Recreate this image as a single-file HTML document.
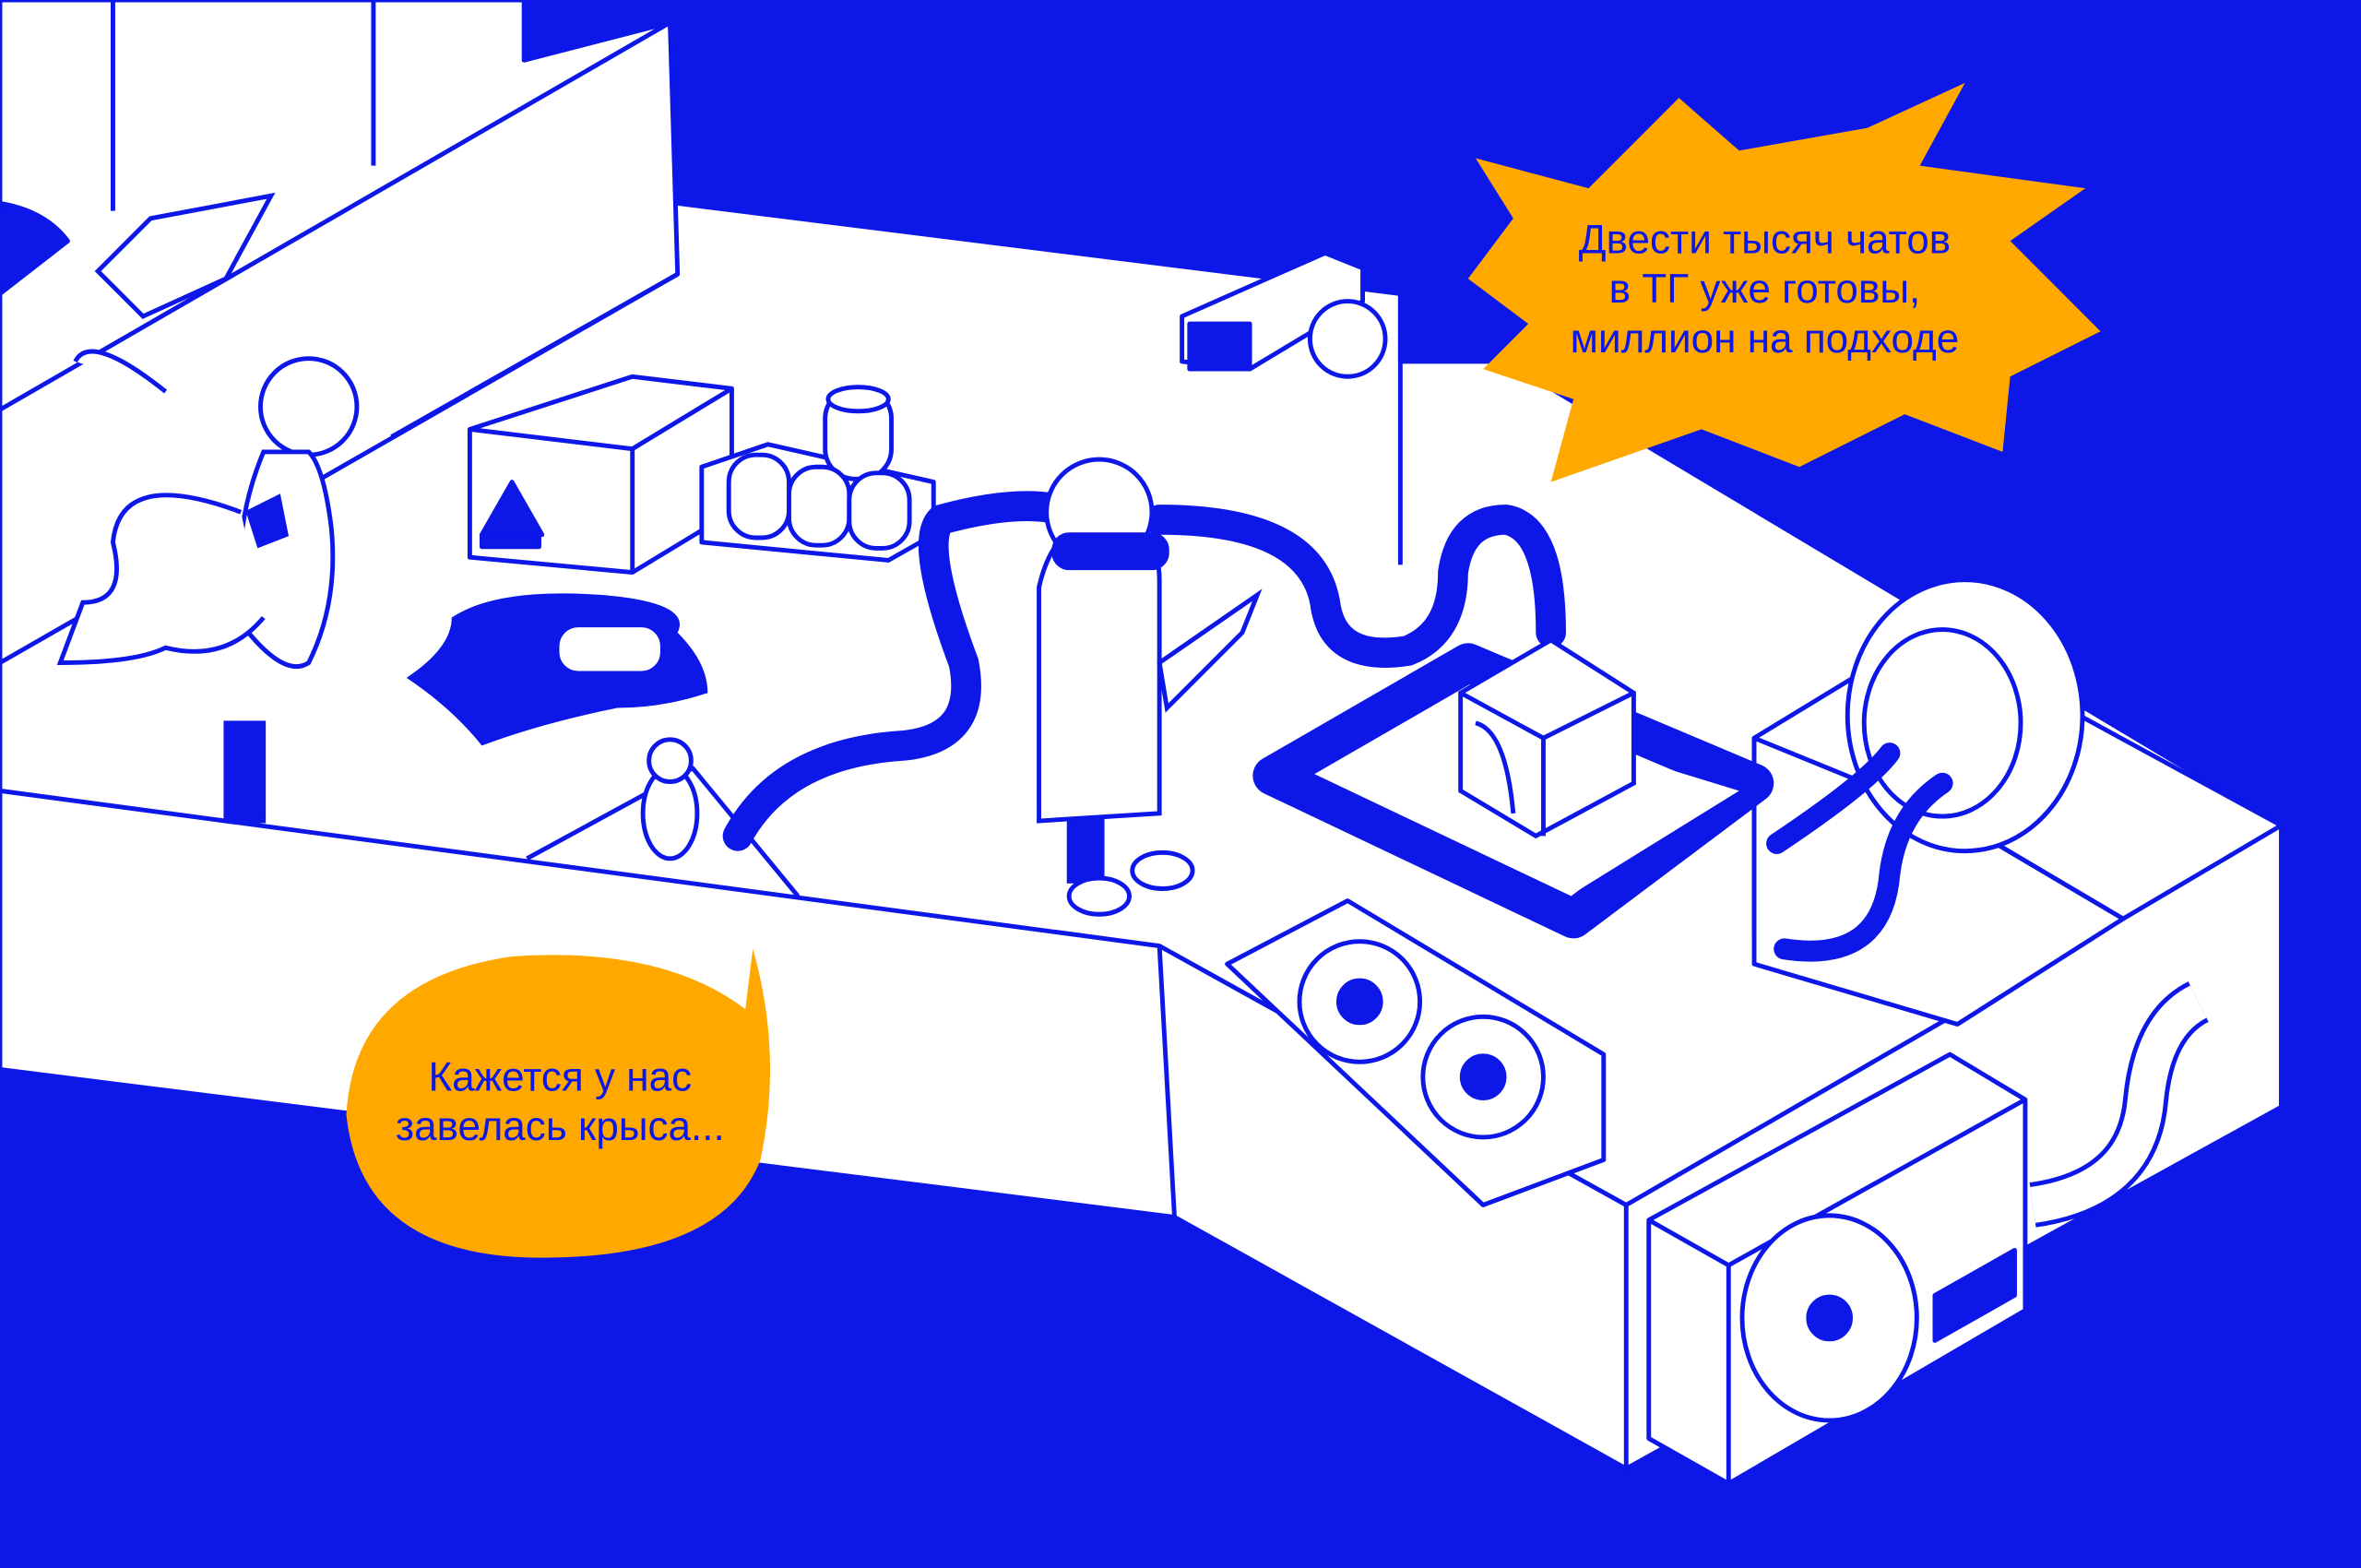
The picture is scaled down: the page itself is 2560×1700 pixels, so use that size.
<!DOCTYPE html>
<html><head><meta charset="utf-8"><style>
html,body{margin:0;padding:0;background:#0c17e8;}
svg{display:block;}
text{font-family:"Liberation Sans",sans-serif;fill:#0c17e8;}
</style></head><body>
<svg width="2560" height="1700" viewBox="0 0 1568 1041" preserveAspectRatio="none" xmlns="http://www.w3.org/2000/svg">
<rect width="1568" height="1041" fill="#0c17e8"/>
<g fill="#fff" stroke="#0c17e8" stroke-width="3" stroke-linejoin="round">
<polygon points="0,0 348,0 348,40 445,15 450,135 930,195 930,240 1000,240 1515,548 1515,735 1080,975 780,808 0,710"/>
<path d="M0,135 Q30,140 45,160 L0,195 Z" fill="#0c17e8"/>
<polyline fill="none" points="0,272 445,15 450,182 0,440"/>
<line x1="75" y1="0" x2="75" y2="140"/><line x1="248" y1="0" x2="248" y2="110"/>
<line x1="930" y1="195" x2="930" y2="375"/>
<polyline fill="none" points="260,290 450,182"/>
<polyline fill="none" points="0,525 770,628 1080,800 1515,548"/>
<line x1="770" y1="628" x2="780" y2="808"/>
<line x1="1080" y1="800" x2="1080" y2="975"/>
<polyline fill="none" points="350,570 460,510 530,595"/>
<polygon points="312,285 420,250 486,258 486,340 420,380 312,370"/>
<polyline fill="none" points="312,285 420,298 486,258"/><line x1="420" y1="298" x2="420" y2="380"/>
<polygon points="320,355 340,320 360,355" fill="#0c17e8"/><rect x="320" y="355" width="38" height="8" fill="#0c17e8"/>
<polygon points="466,310 510,295 620,320 620,355 590,372 466,360"/>
<rect x="548" y="258" width="44" height="60" rx="20"/><ellipse cx="570" cy="265" rx="20" ry="8"/>
<rect x="484" y="302" width="40" height="55" rx="18"/><rect x="524" y="310" width="40" height="52" rx="18"/><rect x="564" y="314" width="40" height="50" rx="18"/>
<polygon points="785,210 880,168 905,178 905,200 830,245 785,240"/>
<rect x="790" y="215" width="40" height="30" fill="#0c17e8"/>
<circle cx="895" cy="225" r="25"/>
<polygon points="1165,490 1280,420 1515,548 1410,610 1300,545 1165,620"/>
<polygon points="1165,490 1165,640 1300,680 1410,610 1300,545"/>
<ellipse cx="1305" cy="475" rx="78" ry="90"/>
<ellipse cx="1290" cy="480" rx="52" ry="62"/>
<polygon points="815,640 895,598 1065,700 1065,770 985,800"/>
<circle cx="903" cy="665" r="40"/><circle cx="903" cy="665" r="14" fill="#0c17e8"/>
<circle cx="985" cy="715" r="40"/><circle cx="985" cy="715" r="14" fill="#0c17e8"/>
<polygon points="1095,810 1295,700 1345,730 1345,870 1148,985 1095,955"/>
<polyline fill="none" points="1095,810 1148,840 1345,730"/><line x1="1148" y1="840" x2="1148" y2="985"/>
<ellipse cx="1215" cy="875" rx="58" ry="68"/>
<circle cx="1215" cy="875" r="14" fill="#0c17e8"/>
<polygon points="1285,860 1338,830 1338,860 1285,890" fill="#0c17e8"/>
<path d="M1350,800 Q1420,790 1425,730 Q1430,680 1460,665" fill="none" stroke-width="30" stroke="#0c17e8"/>
<path d="M1350,800 Q1420,790 1425,730 Q1430,680 1460,665" fill="none" stroke-width="24" stroke="#fff"/>
</g>
<g fill="none" stroke="#0c17e8" stroke-linecap="round">
<path d="M490,555 Q520,500 600,495 Q650,490 640,440 Q610,360 625,345 Q680,330 710,340" stroke-width="20"/>
<path d="M770,345 Q870,345 880,400 Q885,440 935,432 Q965,420 965,380 Q970,345 1000,345 Q1030,350 1030,420" stroke-width="20"/>
<path d="M1180,560 Q1240,520 1255,500 M1185,630 Q1250,640 1255,580 Q1260,540 1290,520" stroke-width="14"/>
</g>
<polygon points="845,515 975,440 1165,520 1045,610" fill="none" stroke="#0c17e8" stroke-width="26" stroke-linejoin="round"/>
<polygon points="905,510 975,470 1155,525 1050,590" fill="#fff"/>
<g fill="#fff" stroke="#0c17e8" stroke-width="3">
<polygon points="970,460 1030,425 1085,460 1085,520 1020,555 970,525"/>
<polyline fill="none" points="970,460 1025,490 1085,460"/><line x1="1025" y1="490" x2="1025" y2="555"/>
<path d="M980,480 Q1000,485 1005,540" fill="none"/>
</g>
<path d="M270,450 Q300,430 300,410 Q330,390 400,395 Q460,400 450,420 Q470,440 470,460 Q440,470 410,470 Q360,480 320,495 Q300,470 270,450Z" fill="#0c17e8"/>
<g fill="#fff" stroke="#0c17e8" stroke-width="3">
<rect x="370" y="415" width="70" height="32" rx="14"/>
<path d="M690,390 Q700,345 735,345 Q770,350 770,385 L770,540 L690,545 Z"/>
<circle cx="730" cy="340" r="35"/>
<rect x="700" y="355" width="75" height="22" rx="10" fill="#0c17e8"/>
<rect x="710" y="545" width="22" height="40" fill="#0c17e8"/>
<ellipse cx="730" cy="595" rx="20" ry="12"/><ellipse cx="772" cy="578" rx="20" ry="12"/>
<polygon points="770,440 835,395 825,420 775,470"/>
<circle cx="205" cy="270" r="32"/>
<path d="M175,300 Q150,360 165,420 Q190,450 205,440 Q225,400 220,350 Q215,310 205,300Z"/>
<path d="M160,340 Q80,310 75,360 Q85,400 55,400 L40,440 Q90,440 110,430 Q150,440 175,410"/>
<path d="M110,260 Q60,220 50,240"/>
<polygon points="165,340 185,330 190,355 172,362" fill="#0c17e8"/>
<rect x="150" y="480" width="25" height="65" fill="#0c17e8"/>
<polygon points="65,180 100,145 180,130 150,185 95,210"/>
<ellipse cx="445" cy="540" rx="18" ry="30"/><circle cx="445" cy="505" r="14"/>
</g>
<polygon fill="#ffa800" points="980,105 1055,125 1115,65 1155,100 1240,85 1305,55 1275,110 1385,125 1335,160 1395,220 1335,250 1330,300 1265,275 1195,310 1130,285 1030,320 1045,265 985,245 1015,215 975,185 1005,145"/>
<text x="1172" y="168" font-size="27" text-anchor="middle">Двести тысяч чатов</text>
<text x="1172" y="201" font-size="27" text-anchor="middle">в ТГ уже готовы,</text>
<text x="1172" y="234" font-size="27" text-anchor="middle">миллион на подходе</text>
<path fill="#ffa800" d="M500,630 Q520,700 505,770 Q480,835 360,835 Q240,835 230,740 Q235,650 340,635 Q440,628 495,670 Z"/>
<text x="372" y="724" font-size="27" text-anchor="middle">Кажется у нас</text>
<text x="372" y="757" font-size="27" text-anchor="middle">завелась крыса...</text>
</svg>
</body></html>
